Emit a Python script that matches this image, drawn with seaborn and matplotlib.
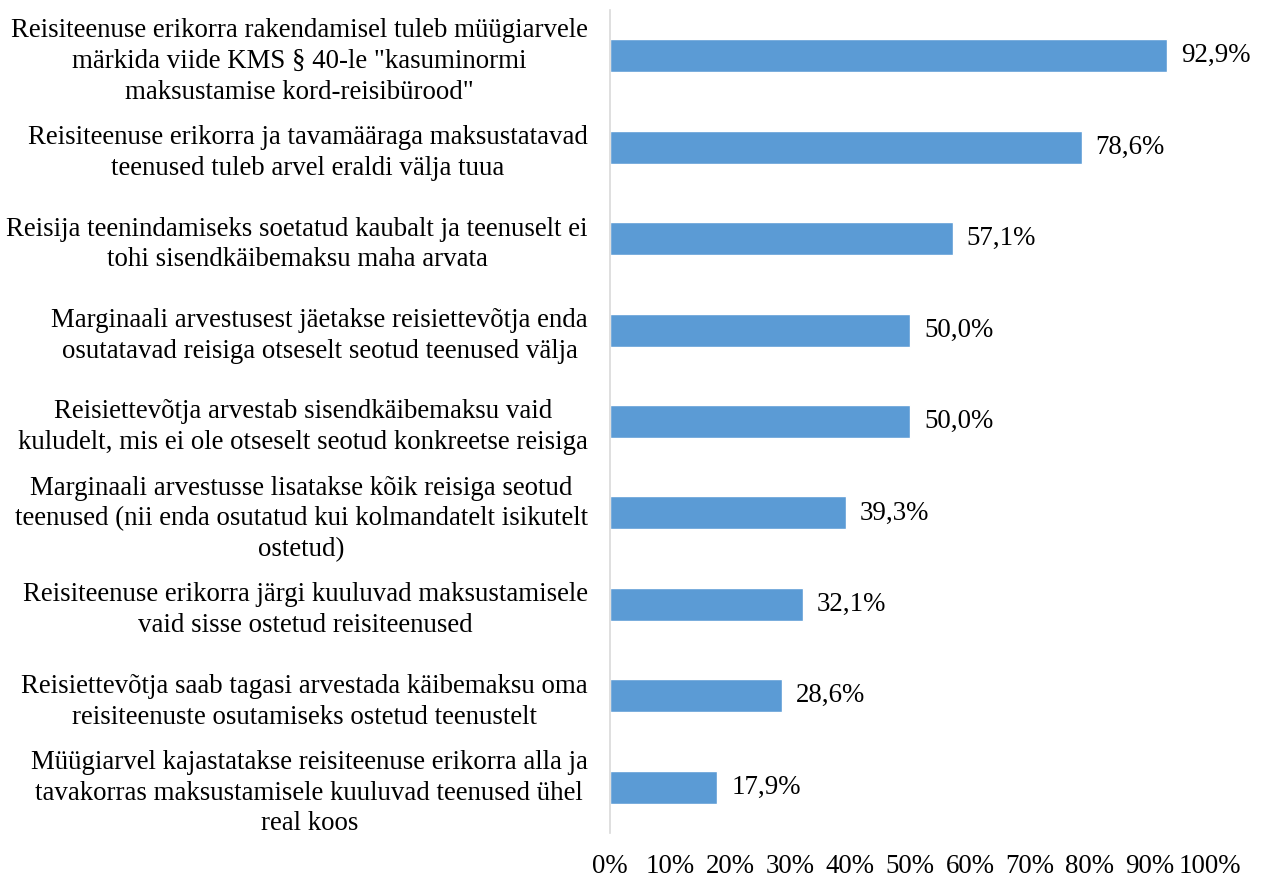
import matplotlib
matplotlib.use("Agg")
import matplotlib.pyplot as plt
import seaborn as sns
import pandas as pd
from matplotlib.ticker import FuncFormatter

categories = [
    'Reisiteenuse erikorra rakendamisel tuleb müügiarvele\nmärkida viide KMS § 40-le "kasuminormi\nmaksustamise kord-reisibürood"',
    'Reisiteenuse erikorra ja tavamääraga maksustatavad\nteenused tuleb arvel eraldi välja tuua',
    'Reisija teenindamiseks soetatud kaubalt ja teenuselt ei\ntohi sisendkäibemaksu maha arvata',
    'Marginaali arvestusest jäetakse reisiettevõtja enda\nosutatavad reisiga otseselt seotud teenused välja',
    'Reisiettevõtja arvestab sisendkäibemaksu vaid\nkuludelt, mis ei ole otseselt seotud konkreetse reisiga',
    'Marginaali arvestusse lisatakse kõik reisiga seotud\nteenused (nii enda osutatud kui kolmandatelt isikutelt\nostetud)',
    'Reisiteenuse erikorra järgi kuuluvad maksustamisele\nvaid sisse ostetud reisiteenused',
    'Reisiettevõtja saab tagasi arvestada käibemaksu oma\nreisiteenuste osutamiseks ostetud teenustelt',
    'Müügiarvel kajastatakse reisiteenuse erikorra alla ja\ntavakorras maksustamisele kuuluvad teenused ühel\nreal koos',
]
values = [0.929, 0.786, 0.571, 0.500, 0.500, 0.393, 0.321, 0.286, 0.179]
value_labels = ["92,9%", "78,6%", "57,1%", "50,0%", "50,0%", "39,3%", "32,1%", "28,6%", "17,9%"]
x_ticks = [0, 0.1, 0.2, 0.3, 0.4, 0.5, 0.6, 0.7, 0.8, 0.9, 1.0]

df = pd.DataFrame({"cat": categories, "val": values})

sns.set_theme(style="white")
plt.rcParams['font.family'] = ['Liberation Serif', 'DejaVu Serif']

fig = plt.figure(figsize=(12.63, 8.77), dpi=100)
ax = fig.add_axes([0.483, 0.0502, 0.475, 0.9384])

sns.barplot(data=df, x="val", y="cat", orient="h", color="#5B9BD5",
            saturation=1, width=0.36, ax=ax)

ax.set_xlim(0, 1)
ax.set_ylim(len(categories) - 0.5, -0.5)
ax.set_xticks(x_ticks)
ax.xaxis.set_major_formatter(FuncFormatter(lambda v, p: f"{int(round(v*100))}%"))
ax.tick_params(axis='x', length=0, pad=15, labelsize=19.4, colors='black')
ax.tick_params(axis='y', length=0, pad=16, labelsize=19.4, colors='black')
for lab in ax.get_yticklabels():
    lab.set_multialignment('center')
    lab.set_linespacing(1.3)

ax.set_xlabel("")
ax.set_ylabel("")
for s in ["top", "right", "bottom"]:
    ax.spines[s].set_visible(False)
ax.spines["left"].set_color("#D9D9D9")
ax.spines["left"].set_linewidth(1.2)

for i, (v, t) in enumerate(zip(values, value_labels)):
    ax.annotate(t, xy=(v, i), xytext=(10, 0), textcoords="offset points",
                va="center", ha="left", fontsize=19.4, color="black")

fig.savefig("out.png", dpi=100)
